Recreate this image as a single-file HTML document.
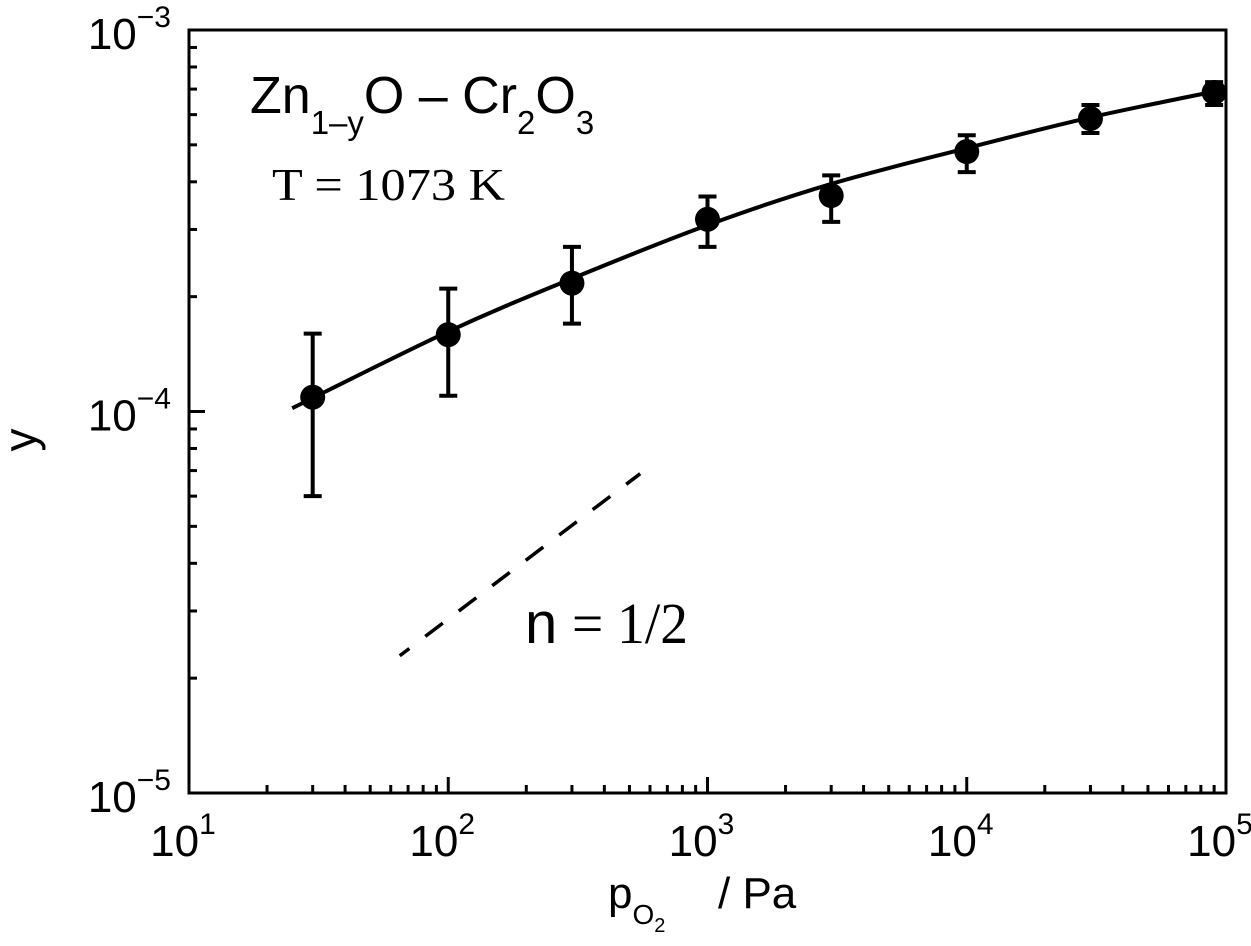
<!DOCTYPE html>
<html><head><meta charset="utf-8"><style>
html,body{margin:0;padding:0;background:#fff}
svg{display:block}
</style></head><body>
<svg id="chart" width="1251" height="946" xmlns="http://www.w3.org/2000/svg" font-family="Liberation Sans, Arial, sans-serif">
<g id="axes"></g>
<g id="marks"></g>
<text x="250" y="113" font-size="52">Zn<tspan font-size="33" dy="21">1–y</tspan><tspan dy="-21">O – Cr</tspan><tspan font-size="33" dy="21">2</tspan><tspan dy="-21">O</tspan><tspan font-size="33" dy="21">3</tspan></text>
<text x="272" y="200" font-size="45" font-family="Liberation Serif, serif" textLength="233" lengthAdjust="spacingAndGlyphs">T = 1073 K</text>
<text x="525" y="643" font-size="58">n</text>
<text x="572" y="643" font-size="58" font-family="Liberation Serif, serif" textLength="116" lengthAdjust="spacingAndGlyphs">= 1/2</text>
<text transform="translate(36,440) rotate(-90)" text-anchor="middle" font-size="46">y</text>
<text x="608" y="908" font-size="44">p<tspan font-size="28" dy="16">O</tspan><tspan font-size="20" dy="8">2</tspan></text>
<text x="718" y="908" font-size="44">/ Pa</text>
</svg>
<script>
const pressure=[30,100,300,1000,3000,10000,30000,90000];
const yValues=[1.09e-4,1.59e-4,2.17e-4,3.19e-4,3.68e-4,4.8e-4,5.86e-4,6.86e-4];
const yUpper=[1.6e-4,2.1e-4,2.7e-4,3.66e-4,4.16e-4,5.3e-4,6.36e-4,7.3e-4];
const yLower=[6e-5,1.1e-4,1.7e-4,2.7e-4,3.14e-4,4.24e-4,5.37e-4,6.36e-4];
const fitX=[25,100,300,1000,3000,10000,30000,100000];
const fitY=[1.02e-4,1.62e-4,2.23e-4,3.08e-4,3.95e-4,4.9e-4,5.9e-4,7.0e-4];
const slopeX=[65,550];
const slopeY=[2.29e-5,6.87e-5];
const xDecades=[1,2,3,4,5];
const yDecades=[-5,-4,-3];

const L=189,R=1226,T=30,B=793;
const xs=v=>L+(Math.log10(v)-1)/4*(R-L);
const ys=v=>B-(Math.log10(v)+5)/2*(B-T);
const NS='http://www.w3.org/2000/svg';
function mk(tag,attrs,parent){const e=document.createElementNS(NS,tag);for(const k in attrs)e.setAttribute(k,attrs[k]);parent.appendChild(e);return e;}
const axes=document.getElementById('axes'),marks=document.getElementById('marks');
let f=mk('rect',{x:L,y:T,width:R-L,height:B-T,fill:'none',stroke:'#000','stroke-width':3},axes);


xDecades.forEach((d,i)=>{
  const x=xs(Math.pow(10,d));
  let t=mk('line',{x1:x,x2:x,y1:B,y2:B-16,stroke:'#000','stroke-width':3},axes);
  
  
  let lab=mk('text',{x:x-6,y:856,'font-size':44,'text-anchor':'middle'},axes);
  
  
  lab.innerHTML='10<tspan font-size="30" dy="-22">'+d+'</tspan>';
  if(i<xDecades.length-1){for(let m=2;m<=9;m++){const xm=xs(m*Math.pow(10,d));
    let mt=mk('line',{x1:xm,x2:xm,y1:B,y2:B-8,stroke:'#000','stroke-width':3},axes);
    
    }}
});
yDecades.forEach((d,i)=>{
  const y=ys(Math.pow(10,d));
  let t=mk('line',{x1:L,x2:L+16,y1:y,y2:y,stroke:'#000','stroke-width':3},axes);
  
  
  let lab=mk('text',{x:171,y:y+19,'font-size':44,'text-anchor':'end'},axes);
  
  
  lab.innerHTML='10<tspan font-size="30" dy="-22">−'+Math.abs(d)+'</tspan>';
  if(i<yDecades.length-1){for(let m=2;m<=9;m++){const ym=ys(m*Math.pow(10,d));
    let mt=mk('line',{x1:L,x2:L+8,y1:ym,y2:ym,stroke:'#000','stroke-width':3},axes);
    
    }}
});
const P=fitX.map((v,i)=>[xs(v),ys(fitY[i])]);
let d='M'+P[0][0]+','+P[0][1];
for(let i=0;i<P.length-1;i++){const p0=P[Math.max(0,i-1)],p1=P[i],p2=P[i+1],p3=P[Math.min(P.length-1,i+2)];
  d+=` C${p1[0]+(p2[0]-p0[0])/6},${p1[1]+(p2[1]-p0[1])/6} ${p2[0]-(p3[0]-p1[0])/6},${p2[1]-(p3[1]-p1[1])/6} ${p2[0]},${p2[1]}`;}
let cp=mk('clipPath',{id:'clip'},marks);mk('rect',{x:L,y:T,width:R-L,height:B-T},cp);
let fit=mk('path',{d:d,fill:'none',stroke:'#000','stroke-width':4,'clip-path':'url(#clip)'},marks);


let sl=mk('line',{x1:xs(slopeX[0]),y1:ys(slopeY[0]),x2:xs(slopeX[1]),y2:ys(slopeY[1]),stroke:'#000','stroke-width':3.5,'stroke-dasharray':'22,20','stroke-dashoffset':'10'},marks);


pressure.forEach((p,i)=>{
  const x=xs(p);
  let g=mk('g',{'clip-path':'url(#clip)'},marks);
  
  
  mk('line',{x1:x,x2:x,y1:ys(yUpper[i]),y2:ys(yLower[i]),stroke:'#000','stroke-width':4},g);
  mk('line',{x1:x-9,x2:x+9,y1:ys(yUpper[i]),y2:ys(yUpper[i]),stroke:'#000','stroke-width':4},g);
  mk('line',{x1:x-9,x2:x+9,y1:ys(yLower[i]),y2:ys(yLower[i]),stroke:'#000','stroke-width':4},g);
  mk('circle',{cx:x,cy:ys(yValues[i]),r:12.5,fill:'#000'},g);
});
</script>
</body></html>
